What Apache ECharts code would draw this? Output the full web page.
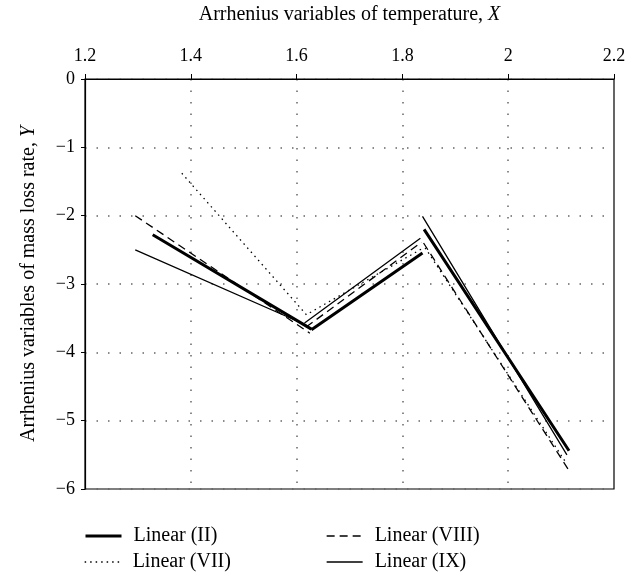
<!DOCTYPE html>
<html>
<head>
<meta charset="utf-8">
<script src="https://cdn.jsdelivr.net/npm/echarts@6/dist/echarts.min.js"></script>
<style>
  html, body { margin: 0; padding: 0; background: #fff; }
  #chart { width: 637px; height: 573px; }
</style>
</head>
<body>
<div id="chart"></div>
<script>
// axis ticks
const xTicks = [1.2, 1.4, 1.6, 1.8, 2, 2.2]
const yTicks = [0, -1, -2, -3, -4, -5, -6]

// each series = three fitted segments, null breaks the line
const linII = [[1.328, -2.28], [1.628, -3.66], null, [1.628, -3.67], [1.838, -2.545], null, [1.841, -2.2], [2.115, -5.44]]
const linVII = [[1.383, -1.38], [1.622, -3.48], null, [1.625, -3.42], [1.84, -2.47], null, [1.843, -2.47], [2.108, -5.6]]
const linVIII = [[1.295, -2.0], [1.625, -3.72], null, [1.618, -3.63], [1.836, -2.39], null, [1.84, -2.4], [2.115, -5.73]]
const linIX = [[1.295, -2.5], [1.618, -3.6], null, [1.615, -3.57], [1.834, -2.33], null, [1.838, -2.01], [2.111, -5.5]]

const names = ["Linear (II)", "Linear (VII)", "Linear (VIII)", "Linear (IX)"]

const font = "'Liberation Serif', 'DejaVu Serif', serif"
const toData = arr => arr.map(p => (p === null ? ["-", "-"] : p))
const minus = v => (v < 0 ? "\u2212" + Math.abs(v) : String(v))

var myChart = echarts.init(document.getElementById("chart"))

const titleRich = {
  n: { fontFamily: font, fontSize: 20, color: "#000" },
  i: { fontFamily: font, fontSize: 20, fontStyle: "italic", color: "#000" }
}
// one legend per entry so the 2x2 layout is fixed
const legendAt = (name, left, top, width) => ({
  data: [name],
  left: left,
  top: top,
  padding: 0,
  itemWidth: 36,
  itemHeight: 10,
  itemStyle: { color: "rgba(0,0,0,0)", borderWidth: 0 },
  lineStyle: { width: width },
  textStyle: { fontFamily: font, fontSize: 20, color: "#000", padding: [0, 0, 0, 7] }
})

let option = {
  animation: false,
  textStyle: { fontFamily: font, color: "#000" },
  grid: {
    left: 85,
    right: 23,
    top: 72,
    bottom: 84,
    show: true,
    borderColor: "#000",
    borderWidth: 1.2
  },
  xAxis: {
    type: "value",
    position: "top",
    min: 1.2,
    max: 2.2,
    interval: 0.2,
    name: "{n|Arrhenius variables of temperature, }{i|X}",
    nameLocation: "middle",
    nameGap: 54,
    nameTextStyle: { rich: titleRich },
    axisLine: { lineStyle: { color: "#000", width: 1.2 } },
    axisTick: { inside: false, length: 5, lineStyle: { color: "#000" } },
    axisLabel: {
      margin: 14,
      fontSize: 18,
      color: "#000",
      fontFamily: font,
      formatter: v => (xTicks.includes(+v.toFixed(1)) ? String(+v.toFixed(1)) : "")
    },
    splitLine: { show: true, lineStyle: { color: "#666", type: [1.5, 10], width: 1.5 } }
  },
  yAxis: {
    type: "value",
    min: -6,
    max: 0,
    interval: 1,
    name: "{n|Arrhenius variables of mass loss rate, }{i|Y}",
    nameLocation: "middle",
    nameRotate: 90,
    nameGap: 46,
    nameTextStyle: { rich: titleRich },
    axisLine: { show: true, lineStyle: { color: "#000", width: 1.2 } },
    axisTick: { show: true, length: 4, lineStyle: { color: "#000" } },
    axisLabel: { margin: 10, fontSize: 18, color: "#000", fontFamily: font, formatter: minus },
    splitLine: { show: true, lineStyle: { color: "#666", type: [1.5, 10], width: 1.5 } }
  },
  legend: [
    legendAt(names[0], 84, 526, 3),
    legendAt(names[1], 84, 552, 1.3),
    legendAt(names[2], 326, 526, 1.3),
    legendAt(names[3], 326, 552, 1.3)
  ],
  series: [
    {
      name: names[0],
      type: "line",
      data: toData(linII),
      symbol: "none",
      connectNulls: false,
      lineStyle: { color: "#000", width: 3 },
      itemStyle: { color: "#000" }
    },
    {
      name: names[1],
      type: "line",
      data: toData(linVII),
      symbol: "none",
      connectNulls: false,
      lineStyle: { color: "#000", width: 1.3, type: [1.5, 4] },
      itemStyle: { color: "#000" }
    },
    {
      name: names[2],
      type: "line",
      data: toData(linVIII),
      symbol: "none",
      connectNulls: false,
      lineStyle: { color: "#000", width: 1.3, type: [8, 5] },
      itemStyle: { color: "#000" }
    },
    {
      name: names[3],
      type: "line",
      data: toData(linIX),
      symbol: "none",
      connectNulls: false,
      lineStyle: { color: "#000", width: 1.3 },
      itemStyle: { color: "#000" }
    }
  ]
}

myChart.setOption(option)

window.onresize = () => {
  myChart.resize()
}
</script>
</body>
</html>
